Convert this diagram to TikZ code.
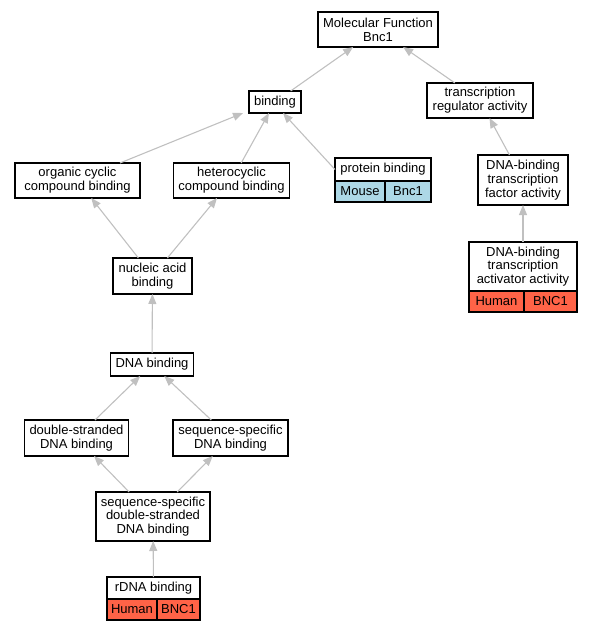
\documentclass[tikz,border=0pt]{standalone}
\usepackage{fontspec}
\setmainfont{Liberation Sans}
\usepackage{tikz}
\usetikzlibrary{arrows.meta,positioning}
\definecolor{edgegrey}{HTML}{C0C0C0}
\definecolor{mouseblue}{HTML}{ADD8E6}
\definecolor{humanred}{HTML}{FF6347}

\begin{document}
\begin{tikzpicture}[x=1pt, y=-1pt, font=\fontsize{13}{13.8}\selectfont,
  term/.style={draw=black, line width=1.2pt, fill=white, align=center, inner xsep=5pt, inner ysep=2pt, outer sep=0pt},
  cell/.style={draw=black, line width=1.2pt, minimum height=21pt, inner sep=0pt, outer sep=0pt, anchor=north west},
  arr/.style={-{Triangle[length=10pt, width=8pt]}, edgegrey, line width=1.1pt}]
  \useasboundingbox (0,0) rectangle (592,632);
  % top levels
  \node[term, minimum width=120pt, minimum height=35pt] (mf) at (378,29.5) {Molecular Function\\ Bnc1};
  \node[term, minimum width=51pt, minimum height=22pt] (bind) at (275,102) {binding};
  \node[term, minimum width=106pt, minimum height=35pt] (tra) at (480,100.5) {transcription\\ regulator activity};
  \node[term, minimum width=125pt, minimum height=35pt] (org) at (77.5,180.5) {organic cyclic\\ compound binding};
  \node[term, minimum width=113pt, minimum height=35pt] (het) at (231.5,180.5) {heterocyclic\\ compound binding};
  \node[term, minimum width=90pt, minimum height=50pt] (tfa) at (523,180) {DNA-binding\\ transcription\\ factor activity};
  % annotated terms
  \node[term, minimum width=96pt, minimum height=23pt] (prot) at (383,169.5) {protein binding};
  \node[cell, fill=mouseblue, minimum width=50pt] (protsp) at (prot.south west) {Mouse};
  \node[cell, fill=mouseblue, minimum width=46pt] (protgene) at (protsp.north east) {Bnc1};
  \node[term, minimum width=108pt, minimum height=49pt] (act) at (523,266.5) {DNA-binding\\ transcription\\ activator activity};
  \node[cell, fill=humanred, minimum width=55pt] (actsp) at (act.south west) {Human};
  \node[cell, fill=humanred, minimum width=53pt] (actgene) at (actsp.north east) {BNC1};
  % DNA branch
  \node[term, minimum width=79pt, minimum height=36pt] (nuc) at (152.5,276) {nucleic acid\\ binding};
  \node[term, minimum width=82pt, minimum height=23pt] (dna) at (152,364.5) {DNA binding};
  \node[term, minimum width=103pt, minimum height=36pt] (ds) at (76.5,438) {double-stranded\\ DNA binding};
  \node[term, minimum width=115pt, minimum height=36pt] (ss) at (230.5,438) {sequence-specific\\ DNA binding};
  \node[term, minimum width=114pt, minimum height=49pt] (ssds) at (153,516.5) {sequence-specific\\ double-stranded\\ DNA binding};
  \node[term, minimum width=93pt, minimum height=22pt] (rdna) at (153.5,588) {rDNA binding};
  \node[cell, fill=humanred, minimum width=50pt] (rdnasp) at (rdna.south west) {Human};
  \node[cell, fill=humanred, minimum width=43pt] (rdnagene) at (rdnasp.north east) {BNC1};
  % is_a edges
  \draw[arr] (bind) -- (mf); \draw[arr] (tra) -- (mf);
  \draw[arr] ([xshift=-20pt]org.north east) -- ([xshift=-6pt]bind.south west);
  \draw[arr] (het) -- (bind);
  \draw[arr] (prot.west) -- ([xshift=8pt]bind.south);
  \draw[arr] (tfa) -- (tra); \draw[arr] (act) -- (tfa);
  \draw[arr] (nuc) -- (org); \draw[arr] (nuc) -- (het);
  \draw[arr] (dna) -- (nuc);
  \draw[arr] (ds) -- (dna); \draw[arr] (ss) -- (dna);
  \draw[arr] (ssds) -- (ds); \draw[arr] (ssds) -- (ss);
  \draw[arr] (rdna) -- (ssds);
\end{tikzpicture}
\end{document}
